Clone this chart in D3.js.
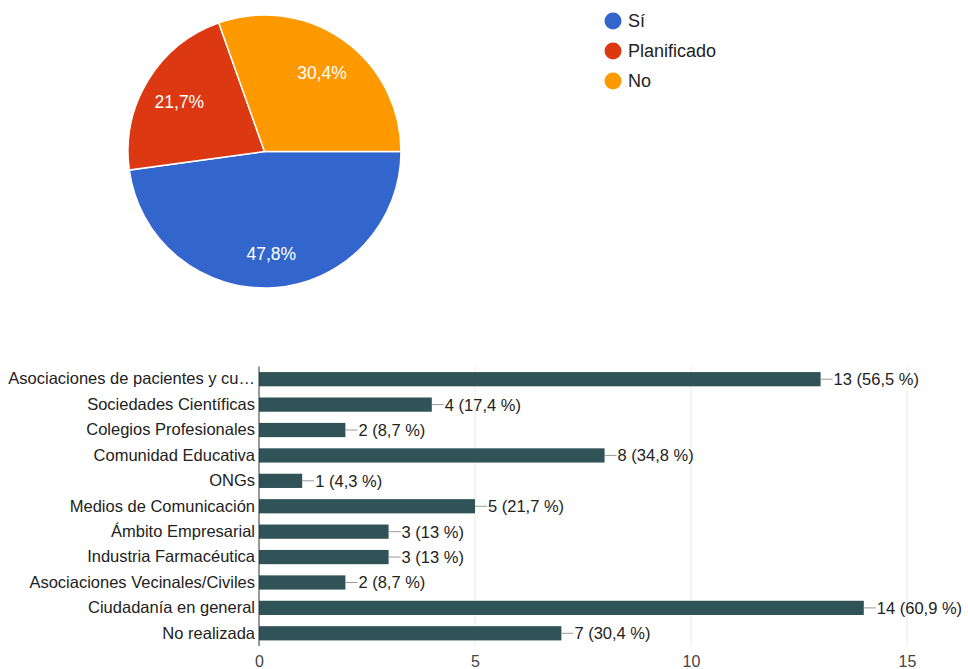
<!DOCTYPE html>
<html>
<head>
<meta charset="utf-8">
<script src="https://cdn.jsdelivr.net/npm/d3@7"></script>
<style>
  html, body { margin: 0; padding: 0; background: #fff; }
  svg { display: block; font-family: "Liberation Sans", Arial, sans-serif; }
</style>
</head>
<body>
<svg id="chart" width="968" height="669"></svg>
<script>
// Pie: answers
const pieLabels = ["Sí", "Planificado", "No"];
const pieValues = [11, 5, 7];
const pieColors = ["#3366cc", "#dc3912", "#ff9900"];

// Bars: groups involved
const barCategories = [
  "Asociaciones de pacientes y cu…",
  "Sociedades Científicas",
  "Colegios Profesionales",
  "Comunidad Educativa",
  "ONGs",
  "Medios de Comunicación",
  "Ámbito Empresarial",
  "Industria Farmacéutica",
  "Asociaciones Vecinales/Civiles",
  "Ciudadanía en general",
  "No realizada"
];
const barValues = [13, 4, 2, 8, 1, 5, 3, 3, 2, 14, 7];
const barTotal = 23;
const xTicks = [0, 5, 10, 15];

(function () {
const svg = d3.select("#chart");
const fmtPct = v => {
  const s = (Math.round(v * 10) / 10).toFixed(1).replace(/\.0$/, "");
  return s.replace(".", ",");
};

// ---------- Pie ----------
const cx = 264.5, cy = 151.5, r = 136.5;
const pie = d3.pie().sort(null).value(d => d)
  .startAngle(Math.PI / 2).endAngle(Math.PI / 2 + 2 * Math.PI);
const arcs = pie(pieValues);
const arc = d3.arc().innerRadius(0).outerRadius(r);
const labelArc = d3.arc().innerRadius(r * 0.73).outerRadius(r * 0.73);
const pieSum = d3.sum(pieValues);

const gPie = svg.append("g").attr("transform", `translate(${cx},${cy})`);
gPie.selectAll("path").data(arcs).join("path")
  .attr("d", arc)
  .attr("fill", (d, i) => pieColors[i])
  .attr("stroke", "#fff")
  .attr("stroke-width", 1.5);
gPie.selectAll("text").data(arcs).join("text")
  .attr("transform", d => `translate(${labelArc.centroid(d)})`)
  .attr("text-anchor", "middle")
  .attr("dy", "0.5em")
  .attr("fill", "#fff")
  .attr("font-size", 17.5)
  .text(d => fmtPct(d.data / pieSum * 100) + "%");

// Legend
const gLeg = svg.append("g").attr("transform", "translate(613,21)");
const legItem = gLeg.selectAll("g").data(pieLabels).join("g")
  .attr("transform", (d, i) => `translate(0,${i * 30})`);
legItem.append("circle").attr("r", 8.5).attr("fill", (d, i) => pieColors[i]);
legItem.append("text").attr("x", 15).attr("dy", "0.36em")
  .attr("font-size", 18).attr("fill", "#222").text(d => d);

// ---------- Bars ----------
const plotLeft = 259, plotRight = 907, plotTop = 366.5, plotBottom = 646;
const x = d3.scaleLinear().domain([0, 15]).range([plotLeft, plotRight]);
const y = d3.scaleBand().domain(barCategories).range([plotTop, plotBottom]).paddingInner(0.44).paddingOuter(0.22);

const gBar = svg.append("g");
// grid
gBar.selectAll("line.grid").data(xTicks.slice(1)).join("line")
  .attr("class", "grid")
  .attr("x1", d => x(d)).attr("x2", d => x(d))
  .attr("y1", plotTop).attr("y2", plotBottom)
  .attr("stroke", "#ebebeb").attr("stroke-width", 1);

gBar.selectAll("rect").data(barValues).join("rect")
  .attr("x", x(0))
  .attr("y", (d, i) => y(barCategories[i]))
  .attr("width", d => x(d) - x(0))
  .attr("height", y.bandwidth())
  .attr("fill", "#2f5356");

// value annotations
const ann = gBar.selectAll("g.ann").data(barValues).join("g")
  .attr("class", "ann")
  .attr("transform", (d, i) => `translate(${x(d)},${y(barCategories[i]) + y.bandwidth() / 2})`);
ann.append("line").attr("x1", 0).attr("x2", 12).attr("stroke", "#999").attr("stroke-width", 1);
ann.append("text").attr("x", 13).attr("dy", "0.36em")
  .attr("font-size", 16.5).attr("fill", "#222")
  .text(d => `${d} (${fmtPct(d / barTotal * 100)} %)`);

// category axis
const yAxis = d3.axisLeft(y).tickSize(0).tickPadding(4);
const gy = gBar.append("g").attr("transform", `translate(${plotLeft},0)`).call(yAxis);
gy.select(".domain").remove();
gy.selectAll("text").attr("font-size", 16.5).attr("fill", "#222").attr("font-family", "Liberation Sans, Arial, sans-serif");
gBar.append("line").attr("x1", plotLeft).attr("x2", plotLeft).attr("y1", plotTop).attr("y2", plotBottom)
  .attr("stroke", "#333").attr("stroke-width", 1);

// value axis
const xAxis = d3.axisBottom(x).tickValues(xTicks).tickSize(0).tickPadding(10).tickFormat(d3.format("d"));
const gx = gBar.append("g").attr("transform", `translate(0,${plotBottom})`).call(xAxis);
gx.select(".domain").remove();
gx.selectAll("text").attr("font-size", 16).attr("fill", "#444").attr("font-family", "Liberation Sans, Arial, sans-serif");
})();
</script>
</body>
</html>
